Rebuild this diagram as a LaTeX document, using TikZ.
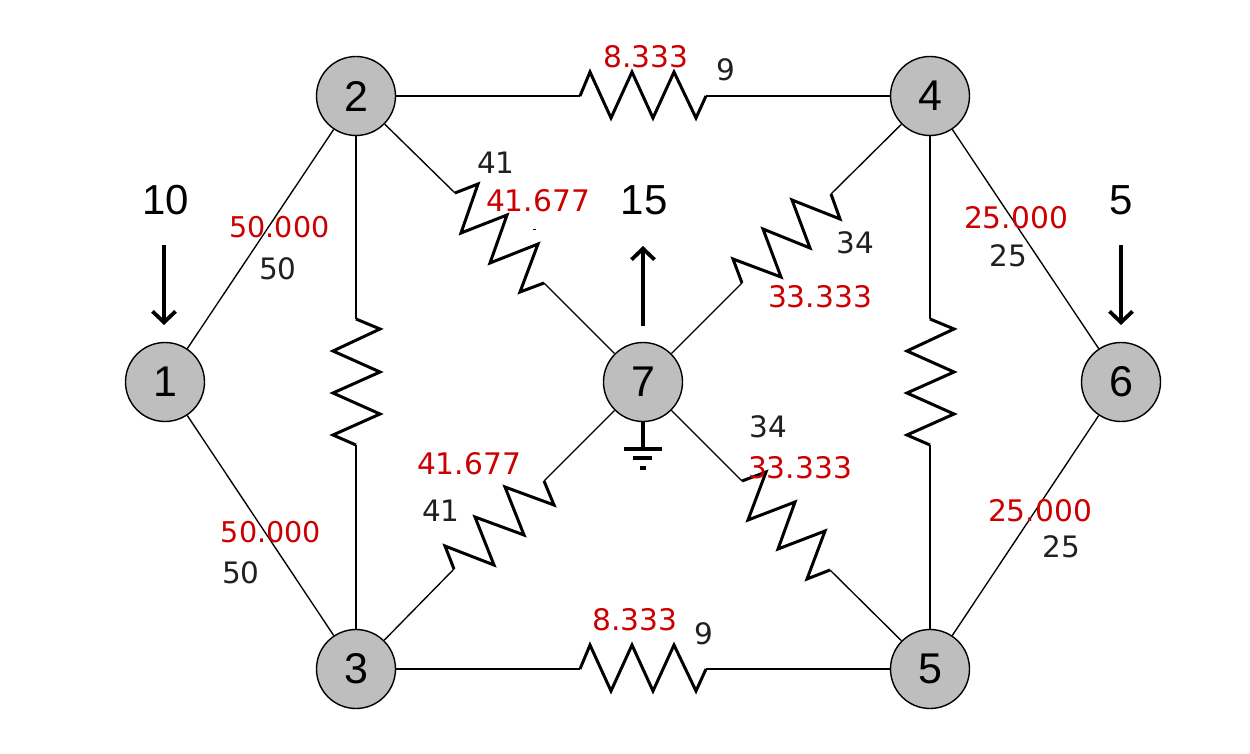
\documentclass[tikz,border=0pt]{standalone}
\usepackage{fontspec}
\setmainfont{DejaVu Sans}
\newfontfamily\helv{Liberation Sans}
\usetikzlibrary{arrows.meta}
\definecolor{flowred}{HTML}{CC0000}
\definecolor{capdark}{HTML}{231F20}
\definecolor{busgray}{HTML}{BEBEBE}
\tikzset{
  bus/.style={circle,draw=black,line width=1.4pt,fill=busgray,minimum size=79pt,inner sep=0pt,font=\helv\fontsize{43}{43}\selectfont},
  wire/.style={draw=black,line width=1.35pt},
  coil/.style={draw=black,line width=3pt,line join=miter},
  flowlabel/.style={inner sep=0pt,text=flowred,font=\fontsize{29.7}{30}\selectfont},
  flowsmall/.style={inner sep=0pt,text=flowred,font=\fontsize{28.6}{30}\selectfont},
  caplabel/.style={inner sep=0pt,text=capdark,font=\fontsize{29.5}{30}\selectfont},
  inj/.style={inner sep=0pt,text=black,font=\helv\fontsize{42}{42}\selectfont},
  injarrow/.style={draw=black,line width=4pt,-{Straight Barb[length=11pt,width=23pt,line width=3.8pt]}},
  earth/.style={draw=black,line width=3.2pt}
}
\begin{document}
\begin{tikzpicture}[x=1pt,y=-1pt]
\useasboundingbox (0,0) rectangle (1250,754);
% buses
\node[bus] (n1) at (165,382) {1};
\node[bus] (n2) at (356,96) {2};
\node[bus] (n3) at (356,669) {3};
\node[bus] (n4) at (930,96) {4};
\node[bus] (n5) at (930,669) {5};
\node[bus] (n6) at (1121,382) {6};
\node[bus] (n7) at (643,382) {7};
% plain lines
\draw[wire] (n1) -- (n2);
\draw[wire] (n1) -- (n3);
\draw[wire] (n4) -- (n6);
\draw[wire] (n5) -- (n6);
% resistor 2-4
\coordinate (a24) at (580,96); \coordinate (b24) at (706,96);
\draw[wire] (n2) -- (a24); \draw[wire] (b24) -- (n4);
\draw[coil] (a24) -- (590,72) -- (611,118) -- (632,72) -- (653,118) -- (674,72) -- (696,118) -- (b24);
% resistor 3-5
\coordinate (a35) at (580,669); \coordinate (b35) at (706,669);
\draw[wire] (n3) -- (a35); \draw[wire] (b35) -- (n5);
\draw[coil] (a35) -- (590,645) -- (611,691) -- (632,645) -- (653,691) -- (674,645) -- (696,691) -- (b35);
% resistor 2-3
\coordinate (a23) at (356,319); \coordinate (b23) at (356,445);
\draw[wire] (n2) -- (a23); \draw[wire] (b23) -- (n3);
\draw[coil] (a23) -- (380,329) -- (333,351) -- (380,372) -- (333,393) -- (380,414) -- (333,435) -- (b23);
% resistor 4-5
\coordinate (a45) at (930,319); \coordinate (b45) at (930,445);
\draw[wire] (n4) -- (a45); \draw[wire] (b45) -- (n5);
\draw[coil] (a45) -- (954,329) -- (907,351) -- (954,372) -- (907,393) -- (954,414) -- (907,435) -- (b45);
% resistor 2-7
\coordinate (a27) at (455,193); \coordinate (b27) at (544,283);
\draw[wire] (n2) -- (a27); \draw[wire] (b27) -- (n7);
\draw[coil] (a27) -- (478,184) -- (461,233) -- (507,215) -- (490,263) -- (538,244) -- (520,292) -- (b27);
% resistor 7-5
\coordinate (a75) at (742,481); \coordinate (b75) at (830,570);
\draw[wire] (n7) -- (a75); \draw[wire] (b75) -- (n5);
\draw[coil] (a75) -- (766,472) -- (748,520) -- (795,502) -- (778,549) -- (825,531) -- (807,579) -- (b75);
% resistor 7-4
\coordinate (a74) at (742,283); \coordinate (b74) at (831,194);
\draw[wire] (n7) -- (a74); \draw[wire] (b74) -- (n4);
\draw[coil] (a74) -- (733,259) -- (781,277) -- (763,229) -- (810,248) -- (792,200) -- (840,219) -- (b74);
% resistor 3-7
\coordinate (a37) at (454,569); \coordinate (b37) at (544,481);
\draw[wire] (n3) -- (a37); \draw[wire] (b37) -- (n7);
\draw[coil] (a37) -- (445,546) -- (494,565) -- (475,517) -- (524,535) -- (505,487) -- (554,505) -- (b37);
% ground
\coordinate (g0) at (643,449);
\draw[earth] (n7) -- (g0);
\draw[earth] (624,449) -- (662,449);
\draw[earth] (633,458) -- (652,458);
\draw[earth] (640,468) -- (646,468);
% injections
\coordinate (i1a) at (164,245); \coordinate (i1b) at (164,325);
\coordinate (i6a) at (1121,245); \coordinate (i6b) at (1121,325);
\coordinate (i7a) at (643,326); \coordinate (i7b) at (643,246);
\draw[injarrow] (i1a) -- (i1b);
\draw[injarrow] (i6a) -- (i6b);
\draw[injarrow] (i7a) -- (i7b);
\node[inj] (t10) at (165.5,200) {10};
\node[inj] (t15) at (644,200) {15};
\node[inj] (t5) at (1121,200) {5};
% stray mark
\draw[draw=black,line width=0.8pt] (533,229.2) -- (536,229.2);
% capacities
\node[caplabel] (c1) at (726,70) {9};
\node[caplabel] (c2) at (496,163) {41};
\node[caplabel] (c3) at (278,269) {50};
\node[caplabel] (c4) at (855,243) {34};
\node[caplabel] (c5) at (1008,256) {25};
\node[caplabel] (c6) at (768,427) {34};
\node[caplabel] (c7) at (441,511) {41};
\node[caplabel] (c8) at (241,573) {50};
\node[caplabel] (c9) at (1061,547) {25};
\node[caplabel] (c10) at (704,634) {9};
% flows
\node[flowlabel] (f1) at (646,57) {8.333};
\node[flowlabel] (f2) at (538,201) {41.677};
\node[flowsmall] (f3) at (279.5,227) {50.000};
\node[flowlabel] (f4) at (820,297) {33.333};
\node[flowlabel] (f5) at (1016,218) {25.000};
\node[flowlabel] (f6) at (800,468) {33.333};
\node[flowlabel] (f7) at (469,464) {41.677};
\node[flowsmall] (f8) at (271,532) {50.000};
\node[flowlabel] (f9) at (1040,511) {25.000};
\node[flowlabel] (f10) at (635,620) {8.333};
\end{tikzpicture}
\end{document}
